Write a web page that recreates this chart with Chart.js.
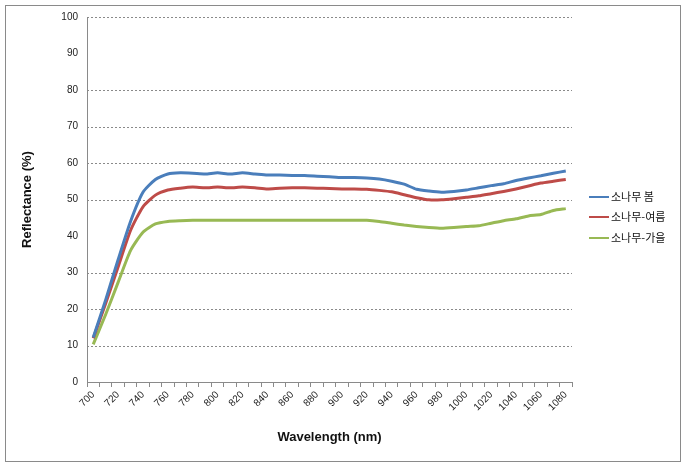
<!DOCTYPE html>
<html>
<head>
<meta charset="utf-8">
<script src="https://cdn.jsdelivr.net/npm/chart.js@4"></script>
<style>
  body { margin: 0; background: #fff; }
  #wrap { width: 687px; height: 467px; }
</style>
</head>
<body>
<div id="wrap"><canvas id="chart1" width="687" height="467"></canvas></div>
<script>
// Datos (cada 10 nm)
const wavelengths = [700, 710, 720, 730, 740, 750, 760, 770, 780, 790, 800, 810, 820, 830, 840, 850, 860, 870, 880, 890,
  900, 910, 920, 930, 940, 950, 960, 970, 980, 990, 1000, 1010, 1020, 1030, 1040, 1050, 1060, 1070, 1080];

const seriesNames = ['소나무 봄', '소나무-여름', '소나무-가을'];

const spring = [12.2, 22.5, 33.5, 44.0, 52.0, 55.5, 57.0, 57.3, 57.2, 57.0, 57.3, 57.0, 57.3, 57.0, 56.7, 56.7, 56.6, 56.6, 56.4, 56.2,
  56.0, 56.0, 55.9, 55.6, 55.0, 54.2, 52.8, 52.3, 52.0, 52.2, 52.6, 53.2, 53.8, 54.3, 55.2, 55.9, 56.5, 57.2, 57.8];

const summer = [12.0, 21.5, 31.5, 41.5, 48.0, 51.2, 52.6, 53.1, 53.4, 53.2, 53.4, 53.2, 53.4, 53.2, 52.9, 53.1, 53.2, 53.2, 53.1, 53.0,
  52.9, 52.9, 52.8, 52.5, 52.1, 51.3, 50.5, 49.9, 49.9, 50.2, 50.6, 51.0, 51.6, 52.2, 52.9, 53.7, 54.5, 55.0, 55.5];

const autumn = [10.3, 18.5, 27.3, 36.0, 41.0, 43.3, 44.0, 44.2, 44.3, 44.3, 44.3, 44.3, 44.3, 44.3, 44.3, 44.3, 44.3, 44.3, 44.3, 44.3,
  44.3, 44.3, 44.3, 44.0, 43.5, 43.0, 42.6, 42.3, 42.1, 42.3, 42.6, 42.8, 43.5, 44.2, 44.7, 45.5, 45.9, 47.0, 47.5];

const colors = ['#4a7ebb', '#be4b48', '#98b954'];

// lineas de la cuadricula que se ven en el original (faltan 40 y 90)
const gridValues = [10, 20, 30, 50, 60, 70, 80, 100];

// marco exterior, cuadricula punteada y leyenda a la derecha
const framePlugin = {
  id: 'frame',
  beforeDraw(chart) {
    const ctx = chart.ctx;
    ctx.save();
    ctx.fillStyle = '#fff';
    ctx.fillRect(0, 0, chart.width, chart.height);
    ctx.strokeStyle = '#8a8a8a';
    ctx.lineWidth = 1;
    ctx.strokeRect(5.5, 5.5, 675, 456);
    ctx.restore();
  },
  beforeDatasetsDraw(chart) {
    const ctx = chart.ctx;
    const area = chart.chartArea;
    const y = chart.scales.y;
    ctx.save();
    ctx.strokeStyle = '#8a8a8a';
    ctx.lineWidth = 1;
    ctx.setLineDash([2, 2]);
    gridValues.forEach(v => {
      const py = Math.round(y.getPixelForValue(v)) + 0.5;
      ctx.beginPath();
      ctx.moveTo(area.left, py);
      ctx.lineTo(area.right, py);
      ctx.stroke();
    });
    ctx.restore();
  },
  afterDraw(chart) {
    const ctx = chart.ctx;
    ctx.save();
    ctx.font = '11px "Noto Sans CJK KR"';
    ctx.textBaseline = 'middle';
    ctx.fillStyle = '#111';
    const ys = [197, 217, 238];
    chart.data.datasets.forEach((ds, i) => {
      ctx.strokeStyle = ds.borderColor;
      ctx.lineWidth = 2;
      ctx.beginPath();
      ctx.moveTo(589, ys[i]);
      ctx.lineTo(609, ys[i]);
      ctx.stroke();
      ctx.fillText(ds.label, 611, ys[i]);
    });
    ctx.restore();
  }
};

const ctx = document.getElementById('chart1').getContext('2d');
const chart = new Chart(ctx, {
  type: 'line',
  data: {
    labels: wavelengths,
    datasets: [
      { label: seriesNames[0], data: spring, borderColor: colors[0] },
      { label: seriesNames[1], data: summer, borderColor: colors[1] },
      { label: seriesNames[2], data: autumn, borderColor: colors[2] }
    ]
  },
  options: {
    responsive: false,
    animation: false,
    layout: { padding: { left: 16, right: 115, top: 17, bottom: 18 } },
    elements: {
      point: { radius: 0 },
      line: { borderWidth: 3, tension: 0.2 }
    },
    plugins: {
      legend: { display: false },
      tooltip: { enabled: false }
    },
    scales: {
      x: {
        offset: true,
        afterFit: (s) => { s.height = 67; },
        grid: {
          offset: true,
          drawOnChartArea: false,
          drawTicks: true,
          tickLength: 5,
          color: '#8a8a8a'
        },
        border: { color: '#8a8a8a', width: 1 },
        ticks: {
          autoSkip: false,
          minRotation: 45,
          maxRotation: 45,
          padding: 2,
          color: '#222',
          font: { family: 'Liberation Sans', size: 10 },
          callback: function (v, i) { return i % 2 === 0 ? this.getLabelForValue(v) : ''; }
        },
        title: {
          display: true,
          text: 'Wavelength (nm)',
          color: '#111',
          font: { family: 'Liberation Sans', size: 13, weight: 'bold' }
        }
      },
      y: {
        min: 0,
        max: 100,
        afterFit: (s) => { s.width = 71; },
        grid: {
          drawTicks: false,
          drawOnChartArea: false
        },
        border: { color: '#8a8a8a', width: 1 },
        ticks: {
          stepSize: 10,
          padding: 9,
          color: '#222',
          font: { family: 'Liberation Sans', size: 10 }
        },
        title: {
          display: true,
          text: 'Reflectance (%)',
          color: '#111',
          font: { family: 'Liberation Sans', size: 13, weight: 'bold' }
        }
      }
    }
  },
  plugins: [framePlugin]
});
</script>
</body>
</html>
